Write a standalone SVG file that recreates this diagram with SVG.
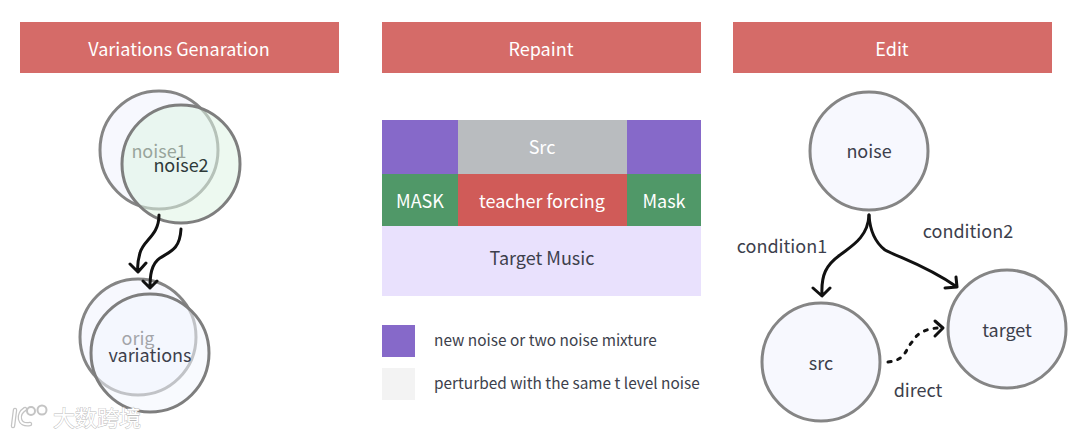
<svg xmlns="http://www.w3.org/2000/svg" width="1080" height="438" viewBox="0 0 1080 438">
<style>
text{font-family:"Noto Sans CJK SC","Noto Sans",sans-serif;text-anchor:middle;fill:#3d3f4c;font-size:18px}
.h{fill:#d56b68}
.w{fill:#fff}
.c{stroke:#858585;stroke-width:3;fill:#f7f8fe}
.g{stroke:#7e7e7e;stroke-width:3;fill:#def4e3;fill-opacity:.55}
.v{stroke:#7e7e7e;stroke-width:3;fill:#f2f6fe;fill-opacity:.55}
.u{fill:#444}
.l{font-size:15.4px;text-anchor:start}
.a{fill:none;stroke:#111;stroke-width:3;stroke-linecap:round;stroke-linejoin:round}
.m1{fill:none;stroke:#c4c4c4;stroke-width:4.5;stroke-linecap:round}
.m2{fill:none;stroke:#fff;stroke-width:2;stroke-linecap:round}
.mt{fill:#fff;stroke:#bdbdbd;stroke-width:.9;font-size:22px;paint-order:stroke}
</style>
<rect width="1080" height="438" fill="#fff"/>
<g id="header-variations"><rect class="h" x="20" y="22" width="319" height="51"/><text class="w" x="179" y="56">Variations Genaration</text></g>
<g id="header-repaint"><rect class="h" x="382" y="22" width="319" height="51"/><text class="w" x="541" y="56">Repaint</text></g>
<g id="header-edit"><rect class="h" x="733" y="22" width="319" height="51"/><text class="w" x="892" y="56">Edit</text></g>

<g id="noise1"><circle class="c" cx="159" cy="150" r="59"/><text class="u" x="159" y="158">noise1</text></g>
<g id="noise2"><circle class="g" cx="181" cy="164" r="59"/><text x="181" y="172" style="fill:#2e3a3a">noise2</text></g>
<g id="orig"><circle class="c" cx="138" cy="337" r="58"/><text class="u" x="138" y="345">orig</text></g>
<g id="variations"><circle class="v" cx="150" cy="353" r="59"/><text x="150" y="362">variations</text></g>

<g id="repaint-blocks">
<rect x="382" y="120" width="76" height="54" fill="#8669c9"/>
<rect x="458" y="120" width="169" height="54" fill="#b9bcbf"/>
<rect x="627" y="120" width="74" height="54" fill="#8669c9"/>
<rect x="382" y="174" width="76" height="52" fill="#509868"/>
<rect x="458" y="174" width="169" height="52" fill="#d05b58"/>
<rect x="627" y="174" width="74" height="52" fill="#509868"/>
<rect x="382" y="226" width="319" height="70" fill="#e9e1fd"/>
<text class="w" x="542" y="154">Src</text>
<text class="w" x="420" y="208">MASK</text>
<text class="w" x="542" y="208">teacher forcing</text>
<text class="w" x="664" y="208">Mask</text>
<text x="542" y="265">Target Music</text>
</g>
<g id="legend">
<rect x="382" y="325" width="33" height="32" fill="#8669c9"/>
<rect x="382" y="368" width="33" height="32" fill="#f3f3f3"/>
<text class="l" x="434" y="346">new noise or two noise mixture</text>
<text class="l" x="434" y="389">perturbed with the same t level noise</text>
</g>

<g id="noise"><circle class="c" cx="869" cy="151" r="59"/><text x="869" y="158">noise</text></g>
<g id="src"><circle class="c" cx="821" cy="362" r="59"/><text x="821" y="370">src</text></g>
<g id="target"><circle class="c" cx="1007" cy="329" r="59"/><text x="1007" y="337">target</text></g>

<g id="connectors">
<path class="a" d="M159 215C159 236 143 240 140 253C138 260 137 265 138 271M130 264L138 272L146 263"/>
<path class="a" d="M181 229C180 248 172 251 160 258C151 264 150 276 150 288M143 281L150 288L157 281"/>
<path class="a" d="M869 215C868 238 850 247 840 255C826 265 821 275 822 295M813 288L822 296L830 288"/>
<path class="a" d="M869 215C870 232 876 243 885 250C900 258 925 265 957 287M945 288L957 287L956 277"/>
<path class="a" stroke-dasharray="3 7" d="M888 362C906 360 905 350 912 342C916 334 926 328 940 328"/>
<path class="a" d="M935 321L943 328L935 336"/>
</g>
<g id="edge-labels">
<text x="782" y="253">condition1</text>
<text x="968" y="238">condition2</text>
<text x="918" y="397">direct</text>
</g>
<g id="watermark">
<path class="m1" d="M15 410L13 426M25 409C17 414 18 426 30 424"/>
<path class="m2" d="M15 410L13 426M25 409C17 414 18 426 30 424"/>
<circle cx="31" cy="411" r="4" fill="none" stroke="#c4c4c4" stroke-width="2"/>
<circle cx="42" cy="410" r="4.5" fill="none" stroke="#c4c4c4" stroke-width="2"/>
<text class="mt" x="97" y="426">大数跨境</text>
</g>
</svg>
